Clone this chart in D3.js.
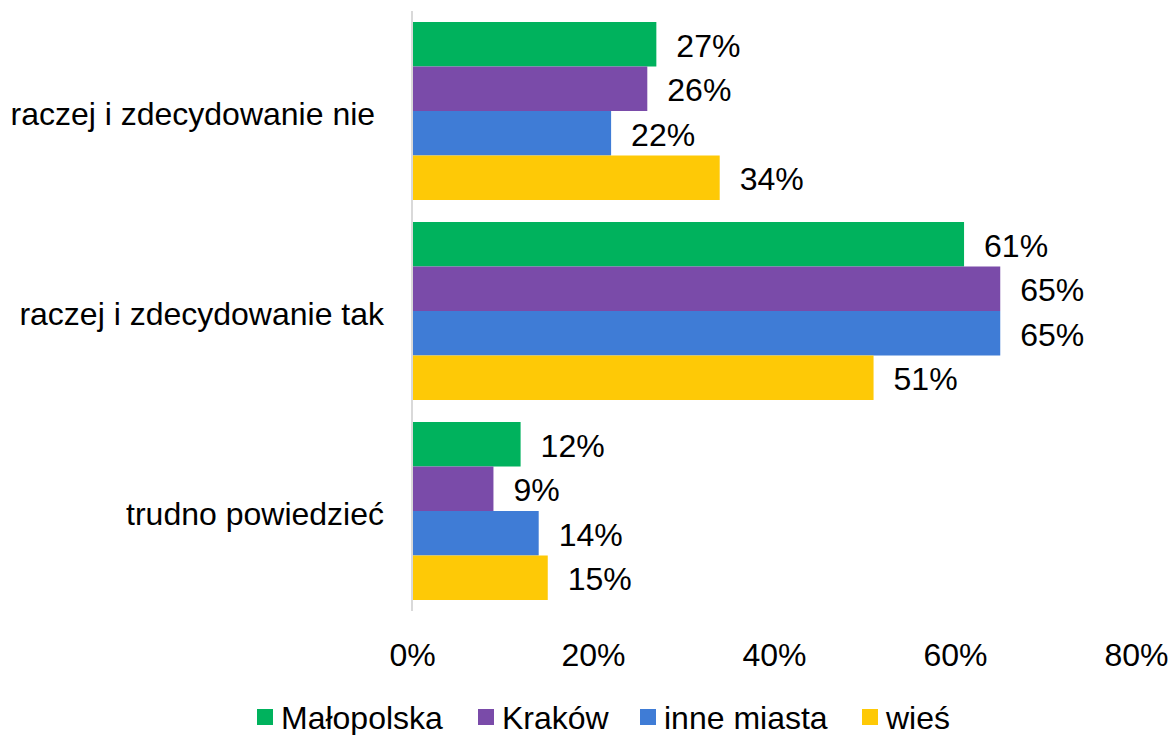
<!DOCTYPE html>
<html><head><meta charset="utf-8">
<script src="https://cdn.jsdelivr.net/npm/d3@7"></script>
<style>
html,body{margin:0;padding:0;background:#fff;}
svg text{font-family:"Liberation Sans",Arial,sans-serif;fill:#000;white-space:pre;}
</style></head>
<body><svg id="c" width="1170" height="735"></svg>
<script>
const categories = ["raczej i zdecydowanie nie ", "raczej i zdecydowanie tak", "trudno powiedzieć"];
const seriesNames = ["Małopolska", "Kraków", "inne miasta", "wieś"];
const seriesColors = ["#00B25D", "#7A4BA9", "#3F7CD6", "#FEC906"];
const malopolska = [0.27, 0.61, 0.12];
const krakow = [0.26, 0.65, 0.09];
const inneMiasta = [0.22, 0.65, 0.14];
const wies = [0.34, 0.51, 0.15];
const tickValues = [0, 0.2, 0.4, 0.6, 0.8];

const seriesValues = [malopolska, krakow, inneMiasta, wies];
const svg = d3.select("#c");
const fs = 32;

const x = d3.scaleLinear().domain([0, 0.8]).range([412, 1136]);
const y0 = d3.scaleBand().domain(categories).range([11, 611]).paddingInner(0.11).paddingOuter(0.055);
const y1 = d3.scaleBand().domain(seriesNames).range([0, y0.bandwidth()]);

// axis line
svg.append("line").attr("x1", x(0)).attr("x2", x(0)).attr("y1", 11).attr("y2", 611)
  .attr("stroke", "#d9d9d9").attr("stroke-width", 2);

// bars
categories.forEach((cat, ci) => {
  seriesNames.forEach((s, si) => {
    const v = seriesValues[si][ci];
    svg.append("rect")
      .attr("x", x(0) + 1)
      .attr("y", y0(cat) + y1(s))
      .attr("width", x(v) - x(0) - 1)
      .attr("height", y1.bandwidth())
      .attr("fill", seriesColors[si]);
    svg.append("text")
      .attr("x", x(v) + 20)
      .attr("y", y0(cat) + y1(s) + y1.bandwidth() / 2 + 4)
      .attr("dominant-baseline", "middle")
      .attr("font-size", fs)
      .text(d3.format(".0%")(v));
  });
  svg.append("text")
    .attr("x", 384)
    .attr("y", y0(cat) + y0.bandwidth() / 2 + 6)
    .attr("text-anchor", "end")
    .attr("dominant-baseline", "middle")
    .attr("font-size", fs)
    .text(cat);
});

// x tick labels
const xAxis = d3.axisBottom(x).tickValues(tickValues).tickFormat(d3.format(".0%")).tickSize(0).tickPadding(0);
const gx = svg.append("g").attr("transform", "translate(0,645)").call(xAxis);
gx.select(".domain").remove();
gx.selectAll("text").attr("font-size", fs).attr("font-family", null).attr("fill", "#000").attr("dy", null)
  .attr("y", 13).attr("dominant-baseline", "middle");

// legend
const legendX = [257, 478, 640, 862];
const lg = svg.append("g");
seriesNames.forEach((s, i) => {
  lg.append("rect").attr("x", legendX[i]).attr("y", 709).attr("width", 16).attr("height", 16).attr("fill", seriesColors[i]);
  lg.append("text").attr("x", legendX[i] + 24).attr("y", 721).attr("dominant-baseline", "middle")
    .attr("font-size", fs).text(s);
});
</script></body></html>
